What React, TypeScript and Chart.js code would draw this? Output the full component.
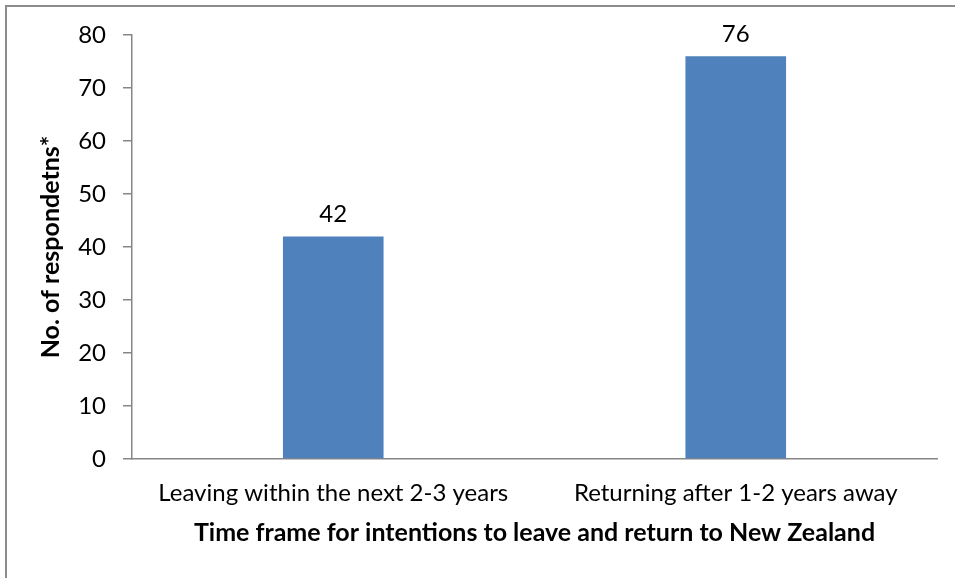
import React, { useEffect, useRef } from "react";
import { Chart, registerables } from "chart.js";

Chart.register(...registerables);

const categories = ["Leaving within the next 2-3 years", "Returning after 1-2 years away"];
const respondents = [42, 76];
const yTicks = [0, 10, 20, 30, 40, 50, 60, 70, 80];
const xTitle = "Time frame for intentions to leave and return to New Zealand";
const yTitle = "No. of respondetns*";

const FONT = "Lato";
const AXIS = "#868686";

const frame = {
  id: "frame",
  beforeDraw(chart: any) {
    const ctx = chart.ctx;
    ctx.save();
    ctx.fillStyle = "#ffffff";
    ctx.fillRect(0, 0, chart.width, chart.height);
    ctx.strokeStyle = "#8c8c8c";
    ctx.lineWidth = 2;
    ctx.strokeRect(6, 6, chart.width + 20, chart.height + 20);
    ctx.restore();
  },
};

const valueLabels = {
  id: "valueLabels",
  afterDatasetsDraw(chart: any) {
    const ctx = chart.ctx;
    const meta = chart.getDatasetMeta(0);
    const data = chart.data.datasets[0].data;
    ctx.save();
    ctx.font = `24px ${FONT}`;
    ctx.fillStyle = "#000";
    ctx.textAlign = "center";
    ctx.textBaseline = "alphabetic";
    meta.data.forEach((el: any, i: number) => {
      ctx.fillText(String(data[i]), el.x, el.y - 14);
    });
    ctx.restore();
  },
};

export default function App() {
  const ref = useRef<HTMLCanvasElement>(null);
  useEffect(() => {
    if (!ref.current) return;
    const chart = new Chart(ref.current, {
      type: "bar",
      data: {
        labels: categories,
        datasets: [
          {
            data: respondents,
            backgroundColor: "#4F81BD",
            borderWidth: 0,
            barPercentage: 0.25,
            categoryPercentage: 1,
          },
        ],
      },
      options: {
        animation: false,
        responsive: false,
        maintainAspectRatio: false,
        layout: { padding: { top: 35, right: 18, left: 0, bottom: 0 } },
        plugins: { legend: { display: false }, tooltip: { enabled: false } },
        scales: {
          x: {
            grid: { display: false, drawTicks: false },
            border: { display: true, color: AXIS, width: 1.5 },
            ticks: { font: { family: FONT, size: 24 }, color: "#000", padding: 20, maxRotation: 0 },
            title: {
              display: true,
              text: xTitle,
              font: { family: FONT, size: 25, weight: "bold" },
              color: "#000",
              padding: { top: 0, bottom: 30 },
            },
            afterFit: (s: any) => {
              s.height = 119;
            },
          },
          y: {
            min: 0,
            max: 80,
            afterBuildTicks: (s: any) => {
              s.ticks = yTicks.map((v) => ({ value: v }));
            },
            grid: { drawOnChartArea: false, drawTicks: true, tickLength: 9, color: AXIS, lineWidth: 1.5 },
            border: { display: true, color: AXIS, width: 1.5 },
            ticks: { font: { family: FONT, size: 24 }, color: "#000", padding: 17 },
            title: {
              display: true,
              text: yTitle,
              font: { family: FONT, size: 25, weight: "bold" },
              color: "#000",
              padding: { top: 36, bottom: 0 },
            },
            afterFit: (s: any) => {
              s.width = 132;
            },
          },
        },
      },
      plugins: [frame, valueLabels],
    });
    return () => chart.destroy();
  }, []);
  return (
    <div style={{ position: "fixed", left: 0, top: 0, width: 955, height: 578, background: "#fff" }}>
      <canvas ref={ref} width={955} height={578} style={{ display: "block" }} />
    </div>
  );
}
